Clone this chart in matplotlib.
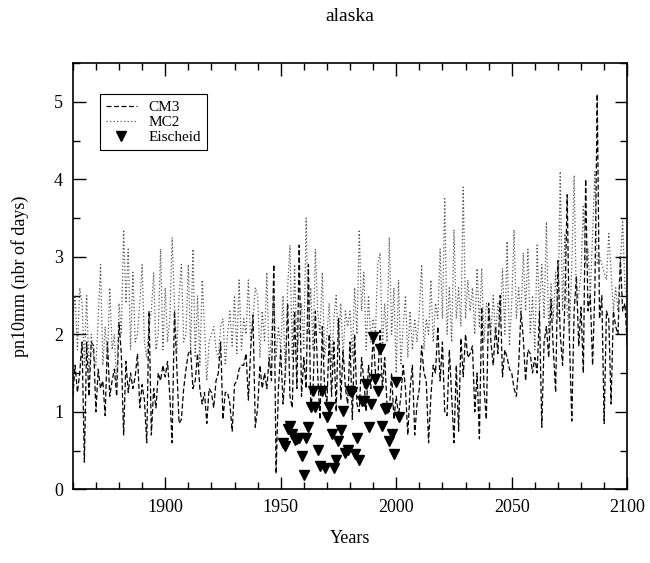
import numpy as np
import matplotlib
matplotlib.use('Agg')
import matplotlib.pyplot as plt
from matplotlib.ticker import MultipleLocator

# ============================== DATA ==============================
years = np.arange(1860, 2101)

# CM3 annual values, 1860-2100
cm3 = [
    # 1860-1899
    1.2, 1.6, 1.25, 1.5, 1.9, 0.35, 1.9, 1.2, 1.9, 1.85,
    1.0, 1.55, 1.3, 1.4, 0.95, 1.9, 1.2, 1.4, 1.55, 1.2,
    2.15, 1.75, 0.7, 1.65, 1.25, 1.5, 1.3, 1.45, 1.75, 1.05,
    1.35, 1.15, 0.6, 2.3, 0.7, 1.3, 1.05, 1.5, 1.4, 1.6,
    # 1900-1939
    1.45, 1.65, 1.2, 0.6, 2.3, 1.6, 0.85, 0.9, 1.3, 1.55,
    1.75, 1.8, 1.3, 1.4, 1.75, 1.3, 1.1, 1.25, 0.85, 1.3,
    1.25, 1.05, 1.4, 1.5, 1.9, 0.9, 1.25, 1.25, 1.1, 0.75,
    1.35, 1.4, 1.55, 1.6, 1.6, 1.75, 1.15, 1.8, 2.25, 0.8,
    # 1940-1979
    1.05, 1.6, 1.3, 1.5, 1.3, 1.7, 1.4, 2.9, 0.2, 1.3,
    1.8, 1.1, 1.5, 2.4, 1.2, 1.05, 2.3, 1.3, 3.15, 1.2,
    1.7, 1.3, 2.9, 1.05, 1.3, 2.3, 1.5, 0.9, 2.1, 1.3,
    1.1, 2.0, 1.2, 1.9, 1.0, 2.2, 1.15, 1.8, 1.3, 1.1,
    # 1980-2019
    1.9, 0.9, 2.0, 1.1, 1.0, 1.7, 1.4, 1.0, 1.6, 1.3,
    2.0, 1.5, 1.4, 2.05, 1.3, 1.7, 1.1, 1.0, 1.5, 0.9,
    1.2, 0.95, 1.2, 1.6, 1.3, 0.7, 1.3, 1.6, 0.7, 1.1,
    1.3, 1.85, 1.5, 1.4, 0.6, 1.2, 1.6, 1.5, 2.1, 1.4,
    # 2020-2059
    1.9, 1.0, 0.95, 1.8, 1.2, 0.6, 1.6, 0.75, 1.95, 1.45,
    2.0, 1.7, 1.75, 1.85, 1.0, 1.5, 0.65, 2.35, 1.3, 0.9,
    2.4, 1.9, 1.6, 2.1, 1.75, 2.5, 1.45, 1.8, 1.7, 1.55,
    1.5, 1.3, 1.2, 1.6, 2.3, 1.95, 1.4, 1.8, 1.75, 1.5,
    # 2060-2100
    1.7, 1.5, 2.3, 0.8, 1.9, 2.1, 1.7, 2.45, 1.8, 1.25,
    2.95, 2.0, 1.6, 2.4, 3.8, 1.9, 0.88, 2.3, 2.75, 1.85,
    2.35, 1.5, 4.0, 2.3, 2.5, 1.6, 2.6, 5.1, 2.2, 2.5,
    0.85, 2.3, 2.2, 1.1, 2.3, 2.1, 2.0, 3.0, 2.3, 2.4,
    1.85,
]

# MC2 annual values, 1860-2100
mc2 = [
    # 1860-1899
    2.2, 2.5, 1.8, 2.6, 2.4, 1.6, 2.5, 1.5, 2.0, 1.7,
    1.6, 2.2, 2.9, 1.6, 2.1, 1.7, 2.6, 1.8, 2.0, 1.3,
    2.4, 2.0, 3.35, 2.4, 3.1, 1.8, 2.8, 1.9, 2.0, 2.4,
    2.9, 1.9, 1.7, 2.1, 2.3, 2.8, 1.8, 2.0, 3.1, 1.8,
    # 1900-1939
    2.6, 1.9, 2.2, 3.25, 2.4, 1.75, 2.5, 2.9, 1.9, 2.0,
    2.9, 1.8, 3.1, 1.7, 2.5, 1.6, 2.7, 2.1, 1.4, 1.9,
    2.0, 2.1, 1.8, 1.7, 2.1, 2.2, 1.6, 2.0, 2.3, 1.85,
    2.5, 1.75, 2.7, 1.8, 2.2, 2.0, 2.7, 1.9, 2.2, 2.6,
    # 1940-1979
    2.5, 1.7, 2.3, 1.9, 2.8, 1.6, 2.0, 2.5, 1.7, 2.1,
    1.8, 2.5, 1.4, 2.6, 3.15, 1.7, 2.9, 1.8, 2.0, 2.4,
    1.8, 3.5, 2.0, 2.6, 1.8, 3.1, 2.3, 2.0, 2.8, 1.7,
    2.0, 2.4, 1.6, 2.2, 2.5, 1.9, 2.4, 1.7, 2.3, 2.1,
    # 1980-2019
    2.3, 1.7, 2.6, 2.0, 3.35, 2.3, 2.8, 1.8, 2.5, 1.9,
    2.2, 2.0, 2.9, 3.05, 1.8, 2.4, 1.9, 3.25, 2.0, 2.6,
    1.5, 2.7, 1.6, 2.1, 2.5, 1.7, 2.3, 1.8, 2.2, 1.9,
    2.3, 2.9, 1.8, 2.2, 2.0, 2.7, 1.9, 2.4, 2.2, 3.1,
    # 2020-2059
    2.2, 3.75, 2.0, 2.6, 1.9, 3.35, 2.2, 2.6, 2.1, 3.9,
    2.2, 2.7, 2.3, 2.6, 2.0, 2.85, 2.1, 2.85, 1.9, 2.4,
    2.3, 2.0, 2.5, 2.0, 2.4, 2.1, 2.85, 2.0, 3.2, 1.85,
    2.4, 3.35, 2.2, 2.6, 2.2, 3.05, 2.3, 3.1, 2.0, 2.5,
    # 2060-2100
    1.8, 3.15, 2.3, 2.9, 2.2, 3.45, 2.0, 2.65, 2.2, 2.8,
    2.2, 4.1, 2.3, 3.3, 2.3, 2.0, 2.9, 4.05, 2.4, 2.5,
    2.8, 3.65, 2.9, 3.1, 2.5, 3.3, 4.1, 2.9, 3.0, 2.9,
    2.8, 2.7, 3.3, 2.8, 2.3, 2.6, 2.3, 2.9, 3.45, 2.6,
    2.5,
]

# Eischeid observations, 1951-2001
obs_years = np.arange(1951, 2002)
eischeid = [
    0.60, 0.56, 0.78, 0.82, 0.71, 0.64, 0.65, 0.66, 0.43, 0.19,
    0.66, 0.80, 1.06, 1.27, 1.06, 0.51, 0.30, 1.27, 0.28, 0.93,
    1.06, 0.71, 0.28, 0.38, 0.62, 0.77, 1.01, 0.47, 0.51, 1.27,
    1.25, 0.45, 0.66, 0.38, 1.14, 1.14, 1.36, 0.80, 1.10, 1.97,
    1.42, 1.27, 1.81, 0.82, 1.03, 1.05, 0.62, 0.71, 0.45, 1.39,
    0.93,
]

# ============================== PLOT ==============================
plt.rcParams['font.family'] = ['Liberation Serif', 'DejaVu Serif']
plt.rcParams['font.size'] = 13

fig = plt.figure(figsize=(6.5, 5.63), dpi=100)
ax = fig.add_axes([0.112, 0.131, 0.853, 0.757])

ax.plot(years, cm3, color='black', ls=(0, (4, 2)), lw=0.9, label='CM3')
ax.plot(years, mc2, color='#555555', ls=(0, (1, 1.8)), lw=0.9, label='MC2')
ax.plot(obs_years, eischeid, 'v', color='black', ms=7, label='Eischeid')

ax.set_xlim(1860, 2100)
ax.set_ylim(0, 5.5)
ax.xaxis.set_major_locator(MultipleLocator(50))
ax.xaxis.set_minor_locator(MultipleLocator(10))
ax.yaxis.set_major_locator(MultipleLocator(1))
ax.yaxis.set_minor_locator(MultipleLocator(0.5))
ax.tick_params(which='both', direction='in', top=True, right=True, width=1)
ax.tick_params(which='major', length=9, pad=7)
ax.tick_params(which='minor', length=5)
for s in ax.spines.values():
    s.set_linewidth(1.2)

ax.set_xlabel('Years', labelpad=10)
ax.set_ylabel('pn10mm (nbr of days)', labelpad=18)
ax.set_title('alaska', pad=30, fontsize=14)

leg = ax.legend(loc='upper left', bbox_to_anchor=(0.035, 0.945), fontsize=11,
                handlelength=2.0, borderpad=0.4, labelspacing=0.1,
                fancybox=False, framealpha=1)
leg.get_frame().set_edgecolor('black')
leg.get_frame().set_linewidth(0.8)

plt.savefig('out.png', dpi=100)
